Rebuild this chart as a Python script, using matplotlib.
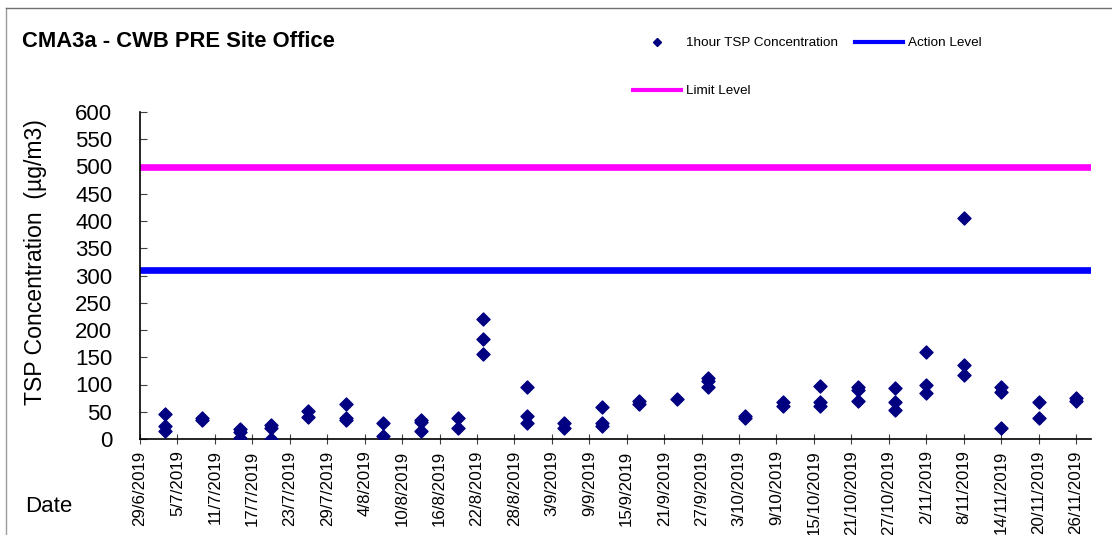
import datetime as dt
import numpy as np
import pandas as pd
import matplotlib
matplotlib.use("Agg")
import matplotlib.pyplot as plt
from matplotlib.lines import Line2D

plt.rcParams['font.family'] = ['Liberation Sans', 'DejaVu Sans']

# sampling dates and the 1-hour TSP readings taken on each of them
sample_dates = ['2019-07-03', '2019-07-09', '2019-07-15', '2019-07-20', '2019-07-26',
                '2019-08-01', '2019-08-07', '2019-08-13', '2019-08-19', '2019-08-23',
                '2019-08-30', '2019-09-05', '2019-09-11', '2019-09-17', '2019-09-23',
                '2019-09-28', '2019-10-04', '2019-10-10', '2019-10-16', '2019-10-22',
                '2019-10-28', '2019-11-02', '2019-11-08', '2019-11-14', '2019-11-20',
                '2019-11-26']
tsp_readings = [[45, 23, 14], [38, 34], [18, 12, 1], [26, 21, 0], [51, 40],
                [64, 39, 35], [29, 6], [35, 32, 14], [38, 20], [220, 184, 156],
                [95, 42, 30], [30, 20], [58, 29, 24], [70, 65], [73],
                [112, 106, 96], [42, 38], [68, 60], [97, 68, 60], [96, 90, 70],
                [93, 67, 54], [160, 99, 84], [406, 136, 118], [96, 87, 21], [68, 38],
                [76, 70]]
action_level = 311
limit_level = 500

tick_start, tick_end, tick_step = '2019-06-29', '2019-11-26', '6D'
y_ticks = list(range(0, 601, 50))

# flatten to one point per reading
x_pts, y_pts = [], []
for d, vals in zip(sample_dates, tsp_readings):
    for v in vals:
        x_pts.append(pd.Timestamp(d))
        y_pts.append(v)

W, H = 1112, 535
fig = plt.figure(figsize=(W / 100, H / 100), dpi=100)
ax = fig.add_axes([140 / W, 1 - 439 / H, (1091 - 140) / W, (439 - 112) / H])

ax.scatter(x_pts, y_pts, marker='D', s=44, color='#000080', zorder=3)
ax.axhline(action_level, color='#0000FF', lw=4.8, zorder=2)
ax.axhline(limit_level, color='#FF00FF', lw=4.8, zorder=2)

ticks = pd.date_range(tick_start, tick_end, freq=tick_step)
ax.set_xticks(ticks)
ax.set_xticklabels([f"{t.day}/{t.month}/{t.year}" for t in ticks], rotation=90, fontsize=12.2)
ax.set_xlim(pd.Timestamp(tick_start), pd.Timestamp(tick_start) + pd.Timedelta(days=152.4))
ax.set_ylim(0, 600)
ax.set_yticks(y_ticks)
ax.tick_params(axis='y', direction='in', length=5, labelsize=16, pad=20, color='#404040')
ax.tick_params(axis='x', direction='inout', length=6.5, pad=5, color='#404040')

for s in ('top', 'right'):
    ax.spines[s].set_visible(False)
for s in ('left', 'bottom'):
    ax.spines[s].set_linewidth(1.2)

fig.text(36 / W, 1 - 262 / H, 'TSP Concentration  (µg/m3)', rotation=90,
         ha='center', va='center', fontsize=16.6)
fig.text(25 / W, 1 - 507 / H, 'Date', ha='left', va='center', fontsize=16)
fig.text(22 / W, 1 - 47 / H, 'CMA3a - CWB PRE Site Office', ha='left', va='baseline',
         fontsize=15.8, fontweight='bold')

# chart area border (top and left visible)
fig.add_artist(Line2D([6 / W, 6 / W], [0, 1 - 8 / H], transform=fig.transFigure, color='#9a9a9a', lw=1))
fig.add_artist(Line2D([6 / W, 1], [1 - 8 / H, 1 - 8 / H], transform=fig.transFigure, color='#707070', lw=1))

handles = [Line2D([], [], marker='D', ls='none', color='#000080', markersize=4.5),
           Line2D([], [], color='#FF00FF', lw=3),
           Line2D([], [], color='#0000FF', lw=3)]
labels = ['1hour TSP Concentration', 'Limit Level', 'Action Level']
fig.legend(handles, labels, ncol=2, loc='upper left', bbox_to_anchor=(633 / W, 1 - 37 / H),
           frameon=False, fontsize=9.7, handlelength=3.56, handletextpad=0.37,
           columnspacing=1.26, labelspacing=2.64, borderpad=0, borderaxespad=0)

fig.savefig('out.png', dpi=100)
